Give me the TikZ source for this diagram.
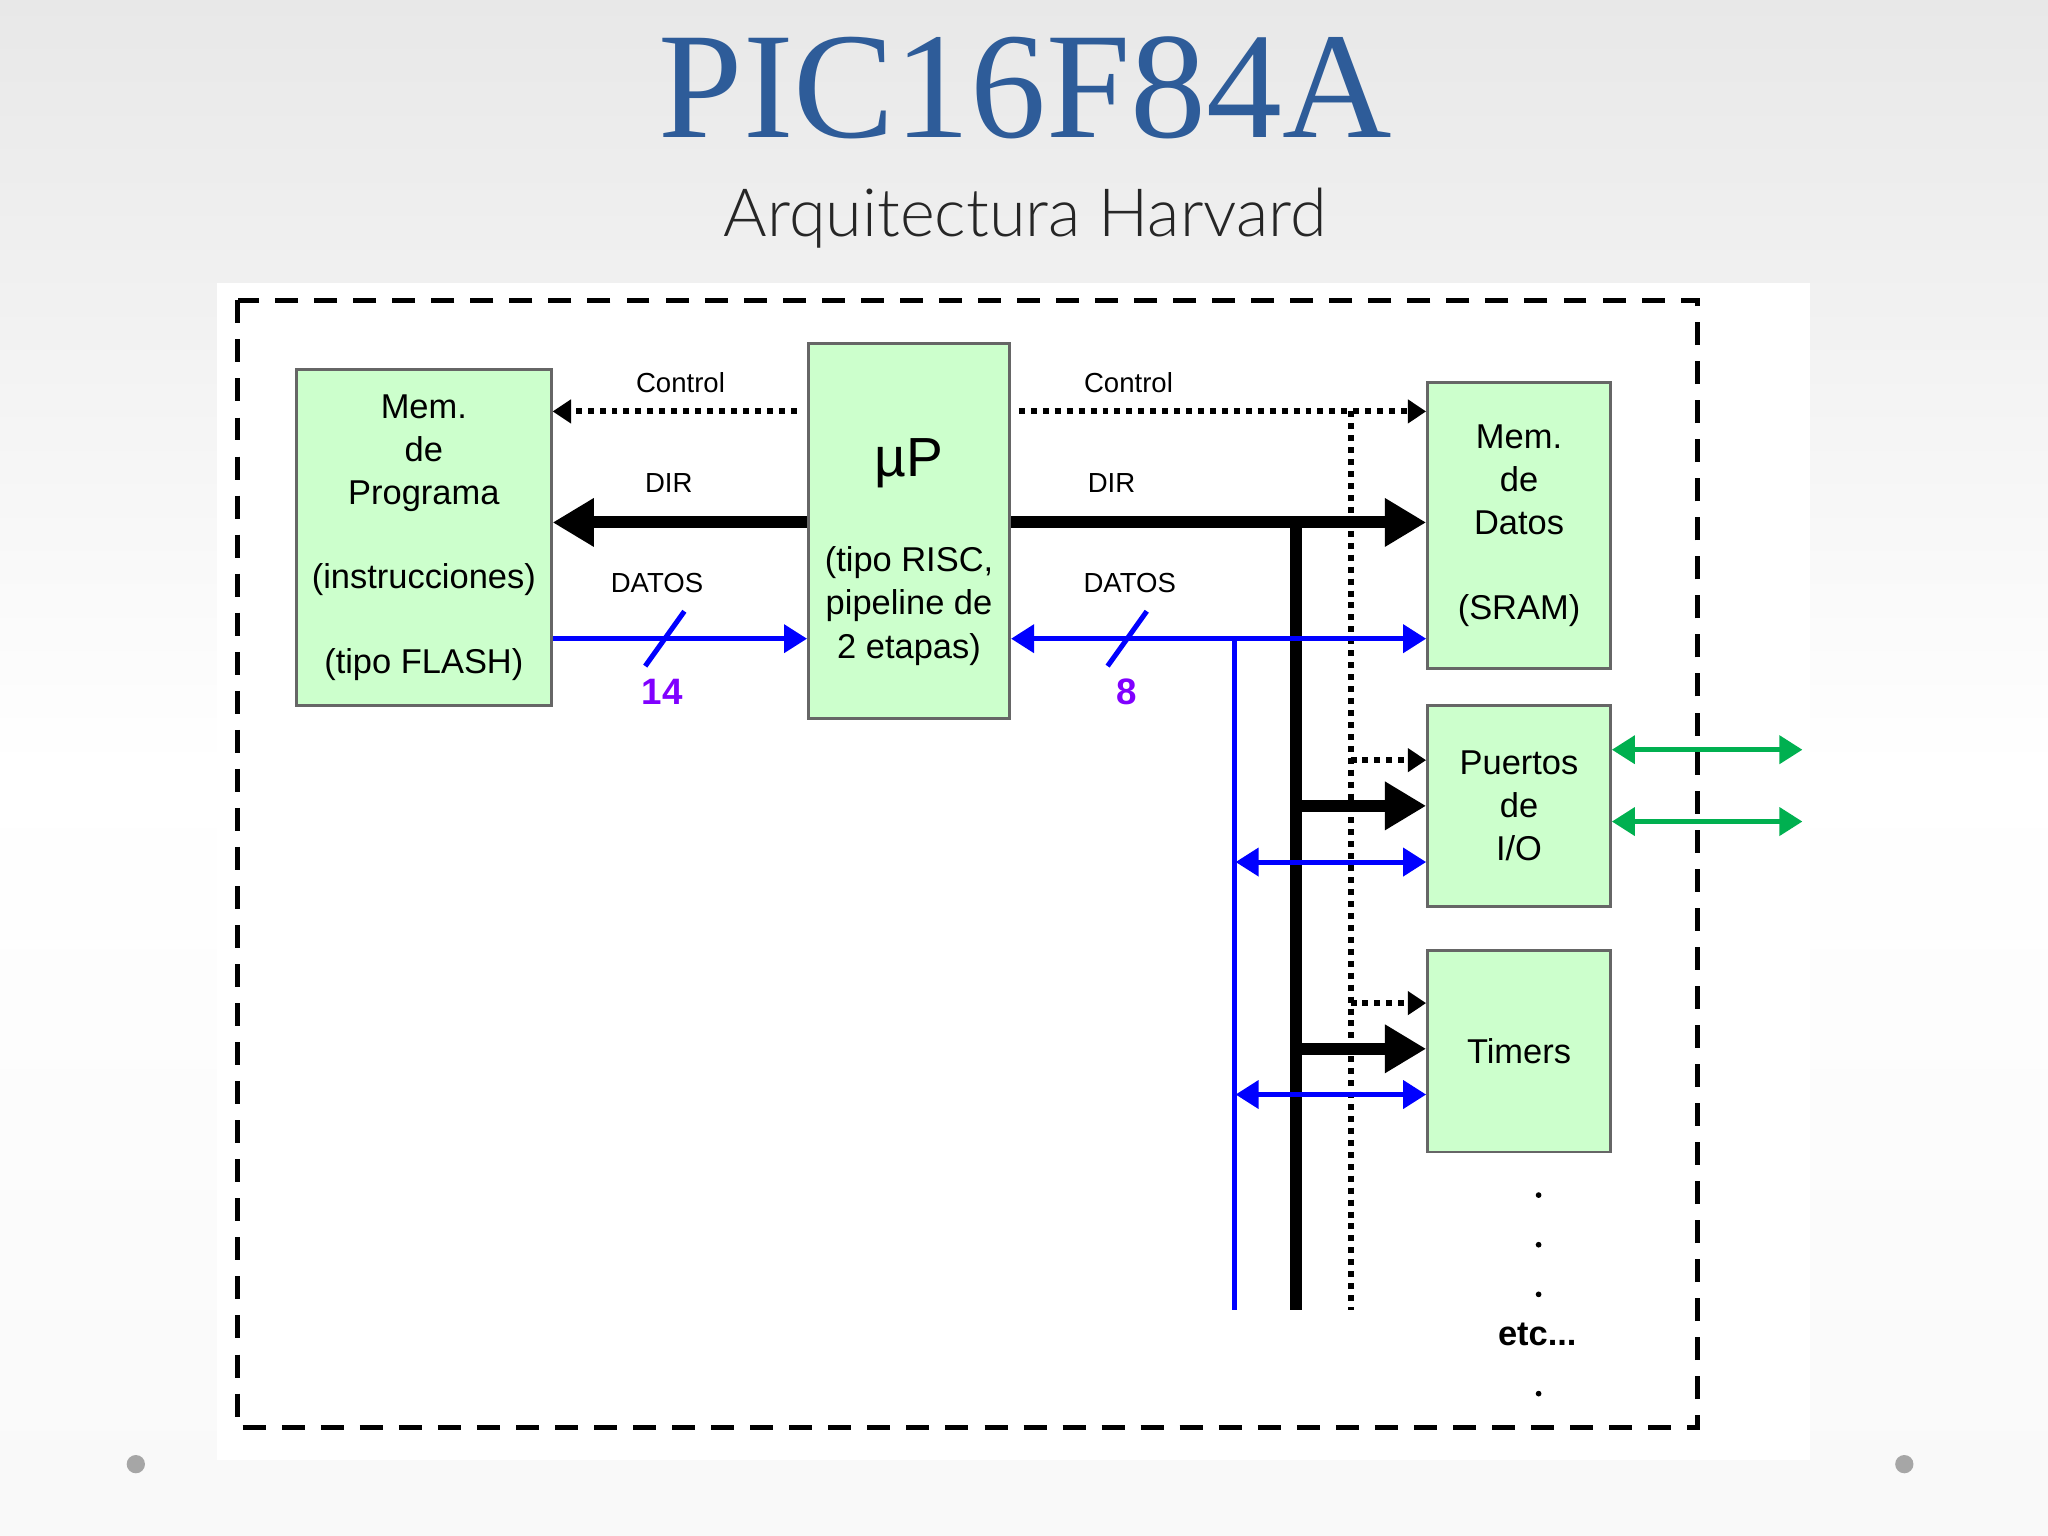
\documentclass[tikz,border=0pt]{standalone}
\usepackage{fontspec}
\setmainfont{Liberation Sans}
\newfontfamily\ttl{Liberation Serif}
\newfontfamily\sub{Lato Light}
\usetikzlibrary{arrows.meta}
\definecolor{boxg}{HTML}{CCFFCC}
\definecolor{ttlb}{HTML}{2E5C99}
\definecolor{bl}{HTML}{0000FF}
\definecolor{gr}{HTML}{00B050}
\definecolor{pu}{HTML}{8000FF}
\begin{document}
\begin{tikzpicture}[x=0.01cm,y=-0.01cm,
 blk/.style={draw=gray!80!black,fill=boxg,line width=0.6pt,align=center,font=\fontsize{7.5}{9.4}\selectfont,inner sep=0},
 lab/.style={font=\fontsize{6}{7}\selectfont},
 dts/.style={line width=1.3pt,dash pattern=on 1.3pt off 1.3pt},
 ctl/.style={dts,-{Triangle[width=5pt,length=4pt]}},
 dir/.style={line width=2.6pt,-{Triangle[width=10pt,length=9pt]}},
 dat/.style={bl,line width=1.1pt,-{Triangle[width=6pt,length=5pt]}},
 datd/.style={bl,line width=1.1pt,{Triangle[width=6pt,length=5pt]}-{Triangle[width=6pt,length=5pt]}},
 io/.style={gr,line width=1.1pt,{Triangle[width=6pt,length=5pt]}-{Triangle[width=6pt,length=5pt]}}]
\shade[top color=gray!18,bottom color=gray!5,middle color=white] (0,0) rectangle (1568,1176);
\useasboundingbox (0,0) rectangle (1568,1176);
\fill[white] (166,217) rectangle (1386,1118);
\draw[line width=1.1pt,dash pattern=on 5pt off 3.5pt] (182,230) rectangle (1300,1093);
\node[ttlb,font=\ttl\fontsize{33}{40}\selectfont] (t) at (785,67) {PIC16F84A};
\node[font=\sub\fontsize{14.5}{16}\selectfont,black!85] (st) at (785,167) {Arquitectura Harvard};
\node[blk,minimum width=1.95cm,minimum height=2.57cm] (mp) at (324.5,411.5) {Mem.\\de\\Programa\\[1.2em](instrucciones)\\[1.2em](tipo FLASH)};
\node[blk,minimum width=1.54cm,minimum height=2.87cm] (up) at (696,406.5) {};
\node[font=\fontsize{12}{14}\selectfont] (upl) at (696,355) {µP};
\node[align=center,font=\fontsize{7.5}{9.4}\selectfont] (upt) at (696,464) {(tipo RISC,\\pipeline de\\2 etapas)};
\node[blk,minimum width=1.40cm,minimum height=2.19cm] (md) at (1163,402.5) {Mem.\\de\\Datos\\[1.2em](SRAM)};
\node[blk,minimum width=1.40cm,minimum height=1.54cm] (pt) at (1163,617) {Puertos\\de\\I/O};
\node[blk,minimum width=1.40cm,minimum height=1.54cm] (tm) at (1163,805) {Timers};
% labels
\node[lab] (c1) at (521,293) {Control};
\node[lab] (c2) at (864,293) {Control};
\node[lab] (d1) at (512,370) {DIR};
\node[lab] (d2) at (851,370) {DIR};
\node[lab] (s1) at (503,446) {DATOS};
\node[lab] (s2) at (865,446) {DATOS};
\node[pu,font=\bfseries\fontsize{8}{9}\selectfont] (n14) at (507,530) {14};
\node[pu,font=\bfseries\fontsize{8}{9}\selectfont] (n8) at (863,530) {8};
% control
\draw[ctl] (up.west|-0,315) ++(-8,0) -- (mp.east|-0,315);
\draw[ctl] (up.east|-0,315) ++(6,0) -- (md.west|-0,315);
\coordinate (cv1) at (1034,315); \coordinate (cv2) at (1034,1003);
\draw[dts] (cv1) -- (cv2);
\draw[ctl] (1034,582) -- (pt.west|-0,582);
\draw[ctl] (1034,768) -- (tm.west|-0,768);
% DIR
\draw[dir] (up.west|-0,400) -- (mp.east|-0,400);
\draw[dir] (up.east|-0,400) -- (md.west|-0,400);
\coordinate (dv1) at (992,400); \coordinate (dv2) at (992,1003);
\draw[line width=2.6pt] (dv1) -- (dv2);
\draw[dir] (992,617) -- (pt.west|-0,617);
\draw[dir] (992,803) -- (tm.west|-0,803);
% DATOS
\draw[dat] (mp.east|-0,489) -- (up.west|-0,489);
\draw[bl,line width=1.1pt] (494,510) -- (524,468);
\draw[datd] (up.east|-0,489) -- (md.west|-0,489);
\draw[bl,line width=1.1pt] (848,510) -- (878,468);
\coordinate (bv1) at (945,489); \coordinate (bv2) at (945,1003);
\draw[bl,line width=1.1pt] (bv1) -- (bv2);
\draw[datd] (946,660) -- (pt.west|-0,660);
\draw[datd] (946,838) -- (tm.west|-0,838);
% IO
\coordinate (o1) at (1380,574); \coordinate (o2) at (1380,629);
\draw[io] (pt.east|-o1) -- (o1);
\draw[io] (pt.east|-o2) -- (o2);
% etc
\foreach \y in {915,953,991,1067} \fill (1178,\y) circle (2.2);
\node[font=\bfseries\fontsize{7.5}{9}\selectfont] (etc) at (1177,1022) {etc...};
\fill[gray!70] (104,1121) circle (7);
\fill[gray!70] (1458,1121) circle (7);
\end{tikzpicture}
\end{document}
